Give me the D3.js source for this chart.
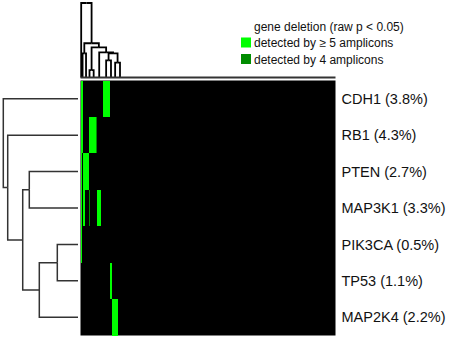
<!DOCTYPE html>
<html>
<head>
<meta charset="utf-8">
<script src="https://cdn.jsdelivr.net/npm/d3@7"></script>
<style>
  body { margin: 0; background: #fff; }
  text { font-family: "Liberation Sans", Arial, sans-serif; fill: #111; }
</style>
</head>
<body>
<svg id="chart" width="450" height="349"></svg>
<script>
// genes (rows) in the clustered order
let geneNames = ["CDH1", "RB1", "PTEN", "MAP3K1", "PIK3CA", "TP53", "MAP2K4"];
let genePct = [3.8, 4.3, 2.7, 3.3, 0.5, 1.1, 2.2];
let nSamples = 184;

// samples with a deletion, per gene (clustered sample order)
let strongCols = [
  [0, 1, 16, 17, 18, 19, 20],
  [0, 1, 6, 7, 8, 9, 10],
  [0, 2, 3, 4, 5],
  [0, 2, 12, 13, 14],
  [0],
  [21, 22],
  [23, 24, 25, 26]
];
let weakCols = [[], [11], [], [6], [], [], []];

let legendLabels = ["gene deletion (raw p < 0.05)", "detected by \u2265 5 amplicons", "detected by 4 amplicons"];
let legendColors = ["#ffffff", "#00ff00", "#008c00"];

// row dendrogram: leaves are gene indexes, h = merge height
let rowTree = {h: 1.0, children: [
  {gene: 0},
  {h: 0.941, children: [
    {gene: 1},
    {h: 0.74, children: [
      {h: 0.652, children: [{gene: 2}, {gene: 3}]},
      {h: 0.518, children: [
        {h: 0.277, children: [{gene: 4}, {gene: 5}]},
        {gene: 6}
      ]}
    ]}
  ]}
]};

// column dendrogram: leaves sit at a sample position
let colTree = {h: 1.0, children: [
  {at: 0},
  {h: 0.46, children: [
    {h: 0.324, children: [{at: 1}, {at: 3.5}]},
    {h: 0.405, children: [
      {h: 0.1, children: [{at: 6}, {at: 9}]},
      {h: 0.338, children: [
        {at: 13},
        {h: 0.324, children: [
          {h: 0.23, children: [{at: 18}, {at: 21.5}]},
          {h: 0.2, children: [{at: 24.5}, {at: 28}]}
        ]}
      ]}
    ]}
  ]}
]};

let hm = {left: 80.5, right: 335.5, top: 80.5, bottom: 335.5};
let svg = d3.select("#chart");

let x = d3.scaleBand().domain(d3.range(nSamples)).range([hm.left, hm.right]);
let y = d3.scaleBand().domain(d3.range(geneNames.length)).range([hm.top, hm.bottom]);
let colPos = d3.scaleLinear().domain([0, nSamples]).range([hm.left, hm.right]);

// heatmap
svg.append("rect")
  .attr("x", hm.left).attr("y", hm.top)
  .attr("width", hm.right - hm.left).attr("height", hm.bottom - hm.top)
  .attr("fill", "#000");

let cells = [];
strongCols.forEach((cols, g) => cols.forEach(c => cells.push({g: g, c: c, color: legendColors[1]})));
weakCols.forEach((cols, g) => cols.forEach(c => cells.push({g: g, c: c, color: legendColors[2]})));

svg.append("g").selectAll("rect")
  .data(cells)
  .enter().append("rect")
  .attr("x", d => x(d.c))
  .attr("y", d => y(d.g))
  .attr("width", x.bandwidth())
  .attr("height", y.bandwidth())
  .attr("fill", d => d.color)
  .attr("shape-rendering", "crispEdges");

// gene labels
svg.append("g").selectAll("text")
  .data(geneNames)
  .enter().append("text")
  .attr("x", hm.right + 6)
  .attr("y", (d, i) => y(i) + y.bandwidth() / 2)
  .attr("dy", "0.35em")
  .attr("font-size", 14.5)
  .text((d, i) => d + " (" + genePct[i] + "%)");

// dendrogram helper: returns elbow paths for every link
function dendroPaths(tree, leafPos, hScale, horizontal) {
  let root = d3.hierarchy(tree);
  root.eachAfter(n => {
    n.pos = n.children ? d3.mean(n.children, c => c.pos) : leafPos(n.data);
    n.hgt = n.children ? n.data.h : 0;
  });
  let paths = [];
  root.each(n => {
    if (!n.children) return;
    n.children.forEach(c => {
      if (horizontal) {
        paths.push("M" + hScale(c.hgt) + "," + c.pos + "H" + hScale(n.hgt) + "V" + n.pos);
      } else {
        paths.push("M" + c.pos + "," + hScale(c.hgt) + "V" + hScale(n.hgt) + "H" + n.pos);
      }
    });
  });
  return paths;
}

// left (row) dendrogram
let rowH = d3.scaleLinear().domain([0, 1]).range([78, 3.3]);
svg.append("g").selectAll("path")
  .data(dendroPaths(rowTree, d => y(d.gene) + y.bandwidth() / 2, rowH, true))
  .enter().append("path")
  .attr("d", d => d)
  .attr("fill", "none")
  .attr("stroke", "#333")
  .attr("stroke-width", 1.5);

// top (column) dendrogram
let colH = d3.scaleLinear().domain([0, 1]).range([77.5, 3]);
svg.append("g").selectAll("path")
  .data(dendroPaths(colTree, d => colPos(d.at + 0.5), colH, false))
  .enter().append("path")
  .attr("d", d => d)
  .attr("fill", "none")
  .attr("stroke", "#000")
  .attr("stroke-width", 1.8);

svg.append("line")
  .attr("x1", colPos(0)).attr("x2", colPos(nSamples))
  .attr("y1", colH(0)).attr("y2", colH(0))
  .attr("stroke", "#333")
  .attr("stroke-width", 2);

// legend
let legend = svg.append("g").attr("transform", "translate(241,0)");
legendLabels.forEach((lab, i) => {
  let by = 30.5 + i * 16.5;
  legend.append("rect")
    .attr("x", 0).attr("y", by - 9.5)
    .attr("width", 10).attr("height", 10)
    .attr("fill", legendColors[i]);
  legend.append("text")
    .attr("x", 13).attr("y", by)
    .attr("font-size", 12)
    .text(lab);
});
</script>
</body>
</html>
